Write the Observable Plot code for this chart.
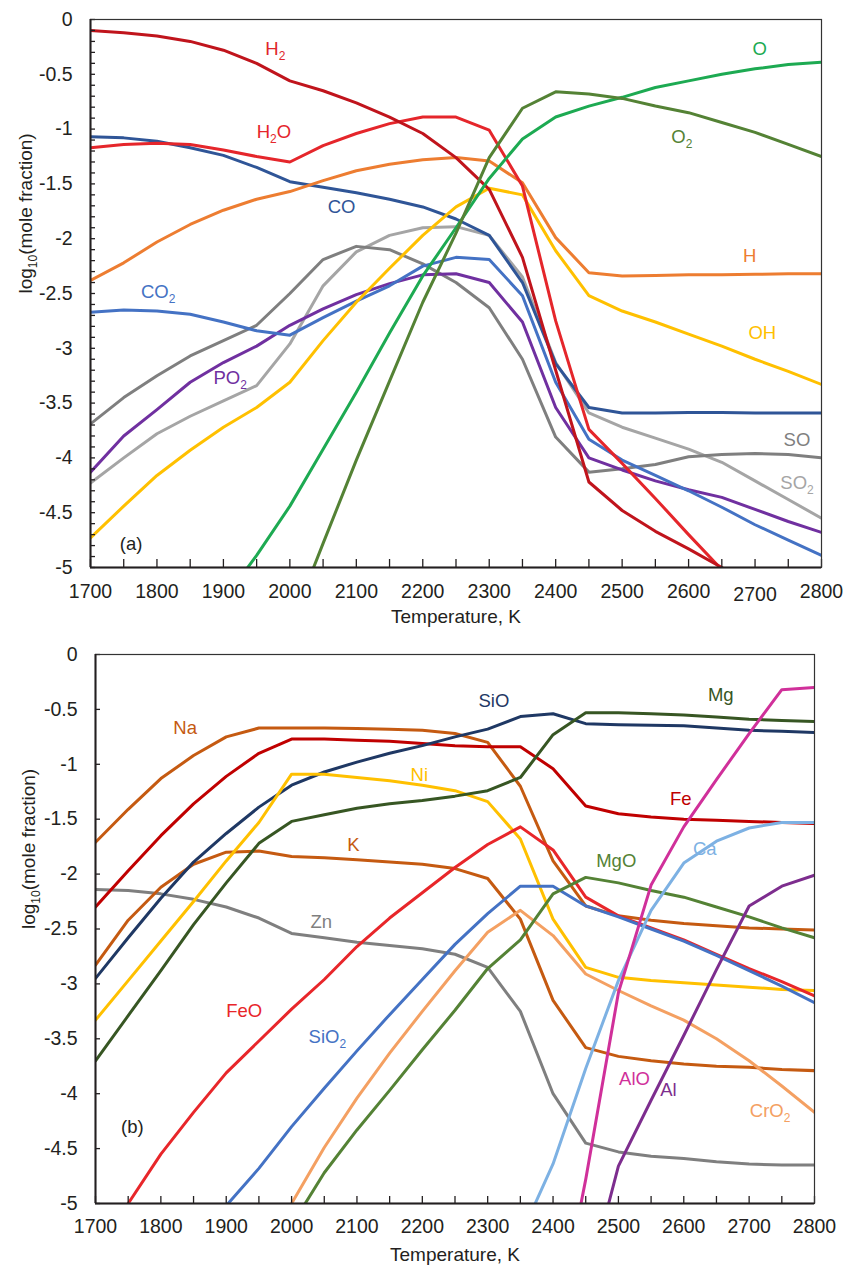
<!DOCTYPE html>
<html><head><meta charset="utf-8">
<script src="https://cdn.jsdelivr.net/npm/d3@7"></script>
<script src="https://cdn.jsdelivr.net/npm/@observablehq/plot@0.6"></script>
<style>
html,body{margin:0;padding:0;background:#fff;}
#chart svg{display:block;}
#chart g[aria-label="x-axis tick label"], #chart g[aria-label="y-axis tick label"]{font-size:19.5px;}
</style></head><body><div id="chart"></div>
<script>
// ---------- shared axis data ----------
const temps = [1700,1750,1800,1850,1900,1950,2000,2050,2100,2150,2200,2250,2300,2350,2400,2450,2500,2550,2600,2650,2700,2750,2800];
const xTickLabels = [1700,1800,1900,2000,2100,2200,2300,2400,2500,2600,2700,2800];
const xMinorTicks = [1700,1750,1800,1850,1900,1950,2000,2050,2100,2150,2200,2250,2300,2350,2400,2450,2500,2550,2600,2650,2700,2750,2800];
const yTickLabels = [0,-0.5,-1,-1.5,-2,-2.5,-3,-3.5,-4,-4.5,-5];
const yMinorTicks = [0,-0.1,-0.2,-0.3,-0.4,-0.5,-0.6,-0.7,-0.8,-0.9,-1,-1.1,-1.2,-1.3,-1.4,-1.5,-1.6,-1.7,-1.8,-1.9,-2,-2.1,-2.2,-2.3,-2.4,-2.5,-2.6,-2.7,-2.8,-2.9,-3,-3.1,-3.2,-3.3,-3.4,-3.5,-3.6,-3.7,-3.8,-3.9,-4,-4.1,-4.2,-4.3,-4.4,-4.5,-4.6,-4.7,-4.8,-4.9,-5];

// ---------- panel (a) series: log10 mole fraction ----------
const H2  = [-0.10,-0.12,-0.15,-0.20,-0.28,-0.40,-0.56,-0.65,-0.76,-0.89,-1.04,-1.26,-1.55,-2.17,-3.20,-4.22,-4.48,-4.67,-4.83,-5.00,-5.20,-5.40,-5.60];
const H2O = [-1.17,-1.14,-1.13,-1.14,-1.19,-1.25,-1.30,-1.15,-1.04,-0.95,-0.89,-0.89,-1.01,-1.52,-2.75,-3.74,-4.05,-4.37,-4.70,-5.02,-5.35,-5.70,-6.00];
const CO  = [-1.07,-1.08,-1.11,-1.17,-1.24,-1.35,-1.48,-1.53,-1.58,-1.64,-1.71,-1.82,-1.97,-2.40,-3.14,-3.54,-3.59,-3.59,-3.585,-3.585,-3.59,-3.59,-3.59];
const CO2 = [-2.67,-2.65,-2.66,-2.69,-2.76,-2.84,-2.88,-2.72,-2.57,-2.43,-2.25,-2.17,-2.19,-2.52,-3.31,-3.83,-4.02,-4.16,-4.30,-4.45,-4.61,-4.75,-4.89];
const H   = [-2.38,-2.22,-2.03,-1.87,-1.74,-1.64,-1.57,-1.47,-1.38,-1.32,-1.28,-1.26,-1.29,-1.49,-1.99,-2.31,-2.34,-2.335,-2.33,-2.33,-2.325,-2.32,-2.32];
const OH  = [-4.73,-4.44,-4.16,-3.93,-3.72,-3.54,-3.31,-2.93,-2.58,-2.27,-1.97,-1.71,-1.54,-1.60,-2.11,-2.52,-2.66,-2.76,-2.87,-2.98,-3.10,-3.21,-3.33];
const O   = [null,null,null,null,-5.30,-4.89,-4.44,-3.92,-3.40,-2.86,-2.34,-1.90,-1.45,-1.09,-0.89,-0.79,-0.71,-0.62,-0.56,-0.50,-0.45,-0.41,-0.39];
const O2  = [null,null,null,null,null,null,-5.55,-4.78,-4.02,-3.30,-2.58,-1.95,-1.26,-0.81,-0.66,-0.68,-0.72,-0.79,-0.85,-0.94,-1.03,-1.14,-1.25];
const PO2 = [-4.13,-3.80,-3.56,-3.31,-3.13,-2.98,-2.79,-2.64,-2.51,-2.41,-2.33,-2.32,-2.40,-2.76,-3.54,-4.00,-4.11,-4.21,-4.29,-4.36,-4.47,-4.58,-4.68];
const SO  = [-3.69,-3.45,-3.25,-3.07,-2.93,-2.79,-2.50,-2.19,-2.07,-2.10,-2.23,-2.40,-2.63,-3.10,-3.81,-4.13,-4.10,-4.06,-3.99,-3.97,-3.96,-3.97,-4.00];
const SO2 = [-4.23,-4.00,-3.78,-3.62,-3.48,-3.34,-2.96,-2.43,-2.12,-1.97,-1.90,-1.89,-1.97,-2.35,-3.13,-3.59,-3.72,-3.82,-3.92,-4.04,-4.21,-4.38,-4.55];

// ---------- panel (b) series ----------
const Na   = [-1.71,-1.41,-1.13,-0.92,-0.75,-0.67,-0.67,-0.67,-0.675,-0.68,-0.69,-0.72,-0.80,-1.20,-1.88,-2.29,-2.38,-2.42,-2.45,-2.47,-2.49,-2.50,-2.51];
const Fe   = [-2.30,-1.97,-1.65,-1.36,-1.11,-0.90,-0.77,-0.77,-0.78,-0.79,-0.81,-0.83,-0.84,-0.84,-1.04,-1.38,-1.45,-1.48,-1.50,-1.51,-1.52,-1.53,-1.54];
const SiO  = [-2.95,-2.58,-2.22,-1.89,-1.63,-1.39,-1.19,-1.07,-0.98,-0.90,-0.83,-0.75,-0.68,-0.565,-0.54,-0.63,-0.64,-0.645,-0.65,-0.67,-0.69,-0.70,-0.71];
const Ni   = [-3.33,-2.97,-2.61,-2.25,-1.88,-1.53,-1.09,-1.09,-1.12,-1.15,-1.19,-1.24,-1.34,-1.68,-2.41,-2.85,-2.94,-2.97,-2.99,-3.01,-3.03,-3.05,-3.06];
const Mg   = [-3.70,-3.29,-2.88,-2.46,-2.08,-1.72,-1.52,-1.46,-1.40,-1.36,-1.33,-1.29,-1.24,-1.12,-0.73,-0.53,-0.53,-0.54,-0.55,-0.57,-0.59,-0.60,-0.61];
const K    = [-2.83,-2.42,-2.12,-1.91,-1.80,-1.79,-1.84,-1.85,-1.87,-1.89,-1.91,-1.95,-2.04,-2.41,-3.15,-3.58,-3.66,-3.70,-3.73,-3.75,-3.76,-3.78,-3.79];
const Zn   = [-2.14,-2.15,-2.18,-2.23,-2.30,-2.40,-2.54,-2.58,-2.62,-2.65,-2.68,-2.73,-2.85,-3.25,-4.00,-4.45,-4.53,-4.57,-4.59,-4.62,-4.64,-4.65,-4.65];
const FeO  = [null,-5.00,-4.55,-4.17,-3.81,-3.52,-3.23,-2.96,-2.66,-2.40,-2.17,-1.94,-1.73,-1.57,-1.78,-2.21,-2.38,-2.49,-2.60,-2.73,-2.86,-2.98,-3.11];
const SiO2 = [null,null,null,null,-5.02,-4.68,-4.30,-3.95,-3.61,-3.28,-2.96,-2.64,-2.36,-2.11,-2.11,-2.29,-2.39,-2.50,-2.61,-2.74,-2.88,-3.02,-3.17];
const CrO2 = [null,null,null,null,null,null,-5.00,-4.49,-4.04,-3.63,-3.25,-2.88,-2.53,-2.33,-2.56,-2.91,-3.06,-3.20,-3.33,-3.50,-3.70,-3.93,-4.17];
const MgO  = [null,null,null,null,null,null,-5.20,-4.72,-4.33,-3.97,-3.60,-3.24,-2.86,-2.60,-2.18,-2.03,-2.08,-2.15,-2.21,-2.30,-2.39,-2.49,-2.58];
const Ca   = [null,null,null,null,null,null,null,null,null,null,null,null,null,-5.30,-4.64,-3.77,-2.97,-2.33,-1.90,-1.70,-1.58,-1.53,-1.53];
const AlO  = [null,null,null,null,null,null,null,null,null,null,null,null,null,null,-6.30,-4.78,-3.08,-2.10,-1.57,-1.14,-0.72,-0.32,-0.30];
const Al   = [null,null,null,null,null,null,null,null,null,null,null,null,null,null,null,-5.80,-4.66,-4.06,-3.47,-2.87,-2.29,-2.11,-2.01];

// ---------- labels (text, temperature, log value at label) ----------
const labelsA = [
  {key:"H2L",  text:"H_2",  T:1963, v:-0.27},
  {key:"H2OL", text:"H_2O", T:1950, v:-1.03},
  {key:"CO",   text:"CO",   T:2057, v:-1.71},
  {key:"CO2",  text:"CO_2", T:1776, v:-2.49},
  {key:"PO2",  text:"PO_2", T:1885, v:-3.27},
  {key:"O",    text:"O",    T:2696, v:-0.27},
  {key:"O2",   text:"O_2",  T:2574, v:-1.07},
  {key:"H",    text:"H",    T:2682, v:-2.155},
  {key:"OH",   text:"OH",   T:2690, v:-2.86},
  {key:"SO",   text:"SO",   T:2743, v:-3.84},
  {key:"SO2",  text:"SO_2", T:2738, v:-4.23},
  {key:"txt",  text:"(a)",  T:1744, v:-4.79}
];
const labelsB = [
  {key:"Na",   text:"Na",    T:1819, v:-0.67},
  {key:"SiO",  text:"SiO",   T:2286, v:-0.42},
  {key:"Mg",   text:"Mg",    T:2637, v:-0.37},
  {key:"Ni",   text:"Ni",    T:2182, v:-1.10},
  {key:"Fe",   text:"Fe",    T:2579, v:-1.32},
  {key:"K",    text:"K",     T:2085, v:-1.74},
  {key:"MgO",  text:"MgO",   T:2466, v:-1.88},
  {key:"Ca",   text:"Ca",    T:2614, v:-1.77},
  {key:"Zn",   text:"Zn",    T:2029, v:-2.44},
  {key:"FeO",  text:"FeO",   T:1900, v:-3.25},
  {key:"SiO2", text:"SiO_2", T:2026, v:-3.48},
  {key:"AlO",  text:"AlO",   T:2501, v:-3.87},
  {key:"Al",   text:"Al",    T:2564, v:-3.97},
  {key:"CrO2", text:"CrO_2", T:2701, v:-4.16},
  {key:"txt",  text:"(b)",   T:1739, v:-4.30}
];

// ---------- styles ----------
const colorsA = {SO2:"#A5A5A5", SO:"#7F7F7F", PO2:"#7030A0", CO2:"#4472C4", CO:"#2F5597", OH:"#FFC000", H:"#ED7D31",
  H2O:"#E5262B", H2:"#C0141C", O:"#1DAA52", O2:"#548235", H2L:"#E0262B", H2OL:"#E5262B", txt:"#231f20"};
const colorsB = {Zn:"#7F7F7F", K:"#C55A11", Na:"#C55A11", Fe:"#C00000", SiO:"#1F3864", Ni:"#FFC000", Mg:"#375623",
  FeO:"#E8262A", SiO2:"#4472C4", CrO2:"#F4A062", MgO:"#548235", Ca:"#7DB1E3", AlO:"#D0309A", Al:"#7D2D8E", txt:"#231f20"};

const valuesA = {SO2, SO, PO2, CO2, CO, OH, H, H2O, H2, O, O2};
const valuesB = {Zn, K, Na, Fe, SiO, Ni, Mg, FeO, SiO2, CrO2, MgO, Ca, AlO, Al};

function toRows(values) {
  return Object.keys(values).flatMap(name =>
    temps.map((T, i) => ({name, T, v: values[name][i]})).filter(d => d.v != null));
}

function subify(svg) {
  d3.select(svg).selectAll("text").each(function() {
    const t = this.textContent;
    if (!t.includes("_")) return;
    const parts = t.split(/_(\d+)/);
    this.textContent = "";
    let lowered = false;
    parts.forEach((p, i) => {
      if (!p) return;
      const ts = document.createElementNS("http://www.w3.org/2000/svg", "tspan");
      ts.textContent = p;
      if (i % 2 === 1) { ts.setAttribute("font-size", "12px"); ts.setAttribute("dy", "5"); lowered = true; }
      else if (lowered) { ts.setAttribute("dy", "-5"); lowered = false; }
      this.appendChild(ts);
    });
  });
}

function panel({values, colors, labels, height, mt, mb, ml, mr, xPad, yMinor, xTickLen, yTitleDx, xTitleDy, drop2700}) {
  const plotH = height - mt - mb;
  const plotW = 844 - ml - mr;
  const pxY = 5 / plotH;           // one pixel in y data units
  const pxX = 1100 / plotW;        // one pixel in x data units
  const mainTicks = drop2700 ? xTickLabels.filter(d => d !== 2700) : xTickLabels;
  const marks = [
    Plot.line(toRows(values), {x: "T", y: "v", z: "name", stroke: d => colors[d.name], strokeWidth: 3,
      strokeLinejoin: "round", clip: true}),
    Plot.ruleX(xMinorTicks, {x: d => d, y1: -5, y2: -5 + xTickLen * pxY, stroke: "#231f20", strokeWidth: 1.3}),
    Plot.ruleY(yMinor, {y: d => d, x1: 1700, x2: 1700 + 5 * pxX, stroke: "#231f20", strokeWidth: 1.3}),
    Plot.frame({stroke: "#333", strokeWidth: 1.2}),
    Plot.ruleX([1700], {stroke: "#231f20", strokeWidth: 2}),
    Plot.ruleY([-5], {stroke: "#231f20", strokeWidth: 2}),
    Plot.axisX({ticks: mainTicks, tickSize: 0, tickPadding: xPad, tickFormat: d => String(d), label: null, fontSize: 19.5}),
    Plot.axisY({ticks: yTickLabels, tickSize: 0, tickPadding: 18, tickFormat: d => String(d), label: null, fontSize: 19.5}),
    Plot.text(labels, {x: "T", y: "v", text: "text", fill: d => colors[d.key], textAnchor: "start", fontSize: 18.5}),
    Plot.text(["Temperature, K"], {frameAnchor: "bottom", dy: xTitleDy, fontSize: 19, fill: "#231f20"}),
    Plot.text(["log_10(mole fraction)"], {frameAnchor: "left", rotate: -90, dx: yTitleDx, fontSize: 19, fill: "#231f20"})
  ];
  if (drop2700) marks.push(Plot.axisX({ticks: [2700], tickSize: 0, tickPadding: xPad + 3, tickFormat: d => String(d), label: null, fontSize: 19.5}));
  const svg = Plot.plot({
    width: 844, height,
    marginTop: mt, marginBottom: mb, marginLeft: ml, marginRight: mr,
    x: {domain: [1700, 2800], label: null},
    y: {domain: [-5, 0], label: null},
    color: {type: "identity"},
    style: {fontFamily: "'Liberation Sans', Arial, sans-serif", fontSize: "19px", color: "#231f20", background: "#fff", overflow: "visible"},
    marks
  });
  subify(svg);
  return svg;
}

const chart = document.getElementById("chart");
chart.appendChild(panel({values: valuesA, colors: colorsA, labels: labelsA, height: 636, mt: 19, mb: 69, ml: 90, mr: 23,
  xPad: 17, yMinor: yMinorTicks, xTickLen: 8, yTitleDx: -65, xTitleDy: 55, drop2700: true}));
chart.appendChild(panel({values: valuesB, colors: colorsB, labels: labelsB, height: 635, mt: 18, mb: 68, ml: 95, mr: 30,
  xPad: 16, yMinor: yTickLabels, xTickLen: 7, yTitleDx: -67, xTitleDy: 57, drop2700: false}));
</script>
</body></html>
